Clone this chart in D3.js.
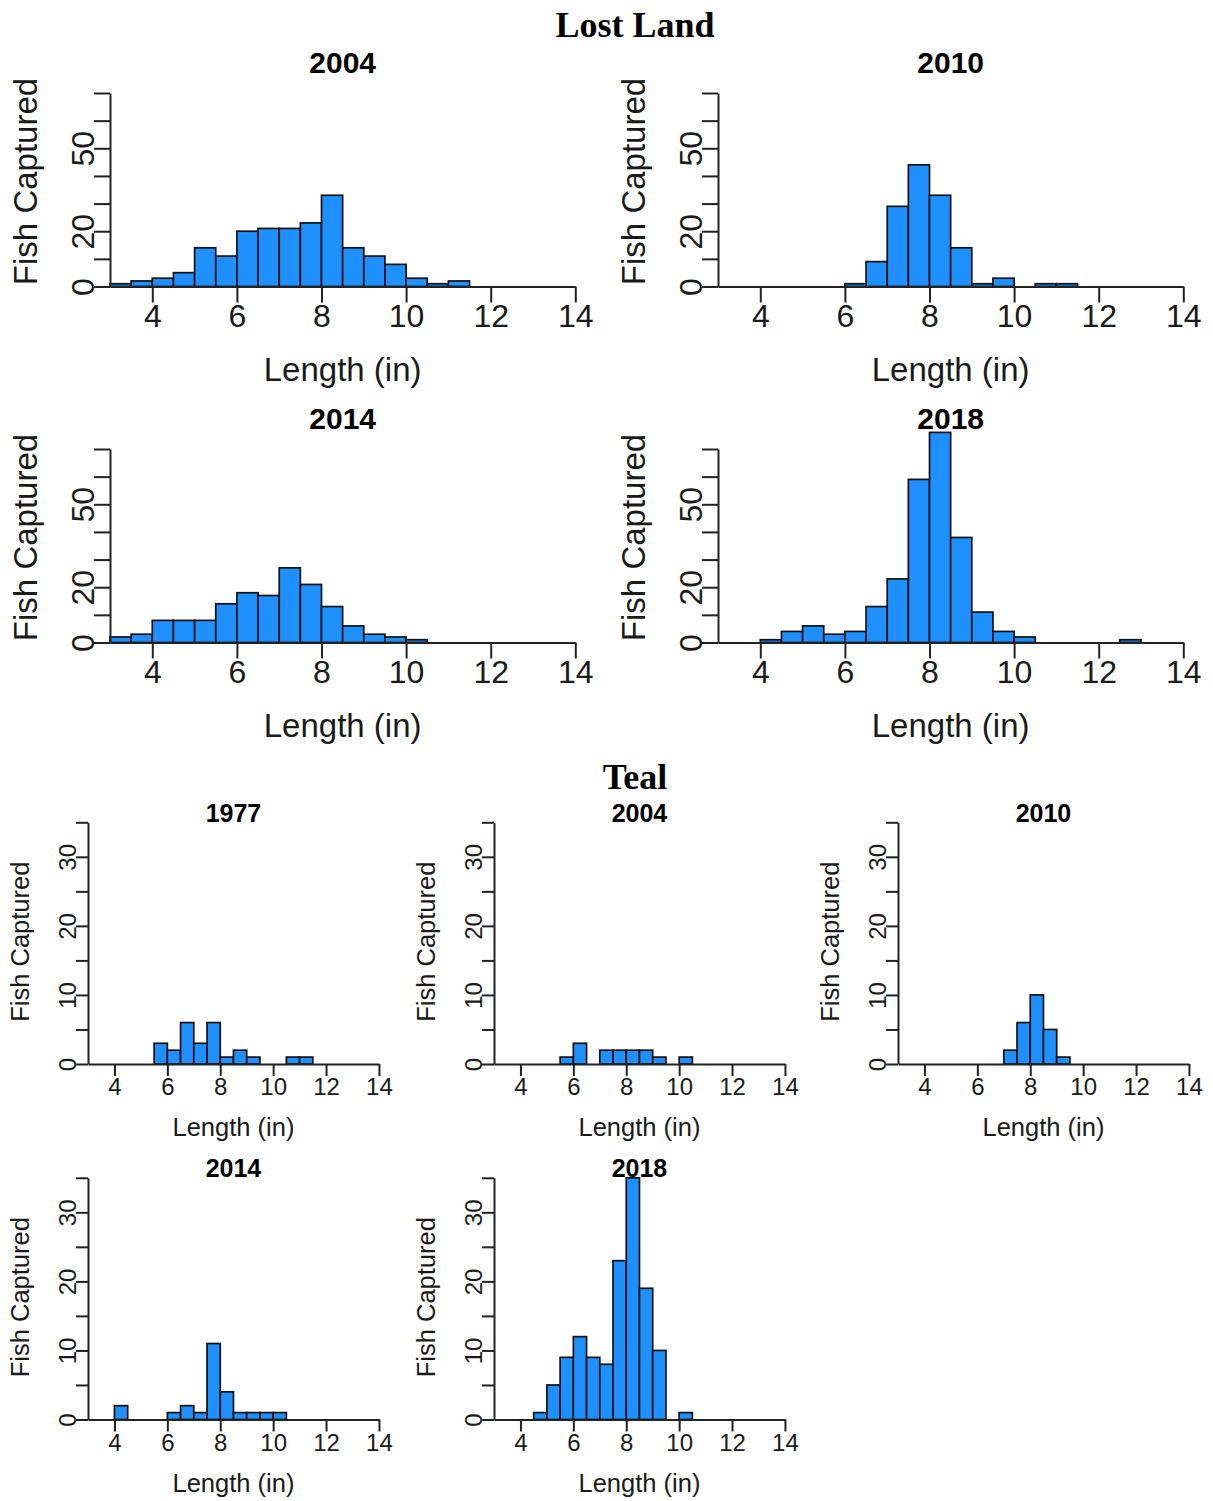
<!DOCTYPE html>
<html>
<head>
<meta charset="utf-8">
<script src="https://cdn.jsdelivr.net/npm/d3@7"></script>
<style>
  body { margin: 0; background: #fff; }
  svg { display: block; }
  text { font-family: Arial, "Liberation Sans", sans-serif; }
  text.group { font-family: "Times New Roman", "Liberation Serif", serif; }
</style>
</head>
<body>
<svg id="chart" width="1213" height="1501"></svg>
<script>
// Length-frequency counts in half-inch bins; each series lists counts from its first bin start.
const binWidth = 0.5;

const lostLand2004Start = 3.0;
const lostLand2004 = [1, 2, 3, 5, 14, 11, 20, 21, 21, 23, 33, 14, 11, 8, 3, 1, 2];
const lostLand2010Start = 6.0;
const lostLand2010 = [1, 9, 29, 44, 33, 14, 1, 3, 0, 1, 1];
const lostLand2014Start = 3.0;
const lostLand2014 = [2, 3, 8, 8, 8, 14, 18, 17, 27, 21, 13, 6, 3, 2, 1];
const lostLand2018Start = 4.0;
const lostLand2018 = [1, 4, 6, 3, 4, 13, 23, 59, 76, 38, 11, 4, 2, 0, 0, 0, 0, 1];

const teal1977Start = 5.5;
const teal1977 = [3, 2, 6, 3, 6, 1, 2, 1, 0, 0, 1, 1];
const teal2004Start = 5.5;
const teal2004 = [1, 3, 0, 2, 2, 2, 2, 1, 0, 1];
const teal2010Start = 7.0;
const teal2010 = [2, 6, 10, 5, 1];
const teal2014Start = 4.0;
const teal2014 = [2, 0, 0, 0, 1, 2, 1, 11, 4, 1, 1, 1, 1];
const teal2018Start = 4.5;
const teal2018 = [1, 5, 9, 12, 9, 8, 23, 35, 19, 10, 0, 1];

// Axis ticks and labels
const xDomain = [3, 14];
const xTicks = [4, 6, 8, 10, 12, 14];
const lostLandYTicks = [0, 10, 20, 30, 40, 50, 60, 70];
const lostLandYLabels = [0, 20, 50];
const tealYTicks = [0, 5, 10, 15, 20, 25, 30, 35];
const tealYLabels = [0, 10, 20, 30];

const groupTitles = ["Lost Land", "Teal"];
const xLabel = "Length (in)";
const yLabel = "Fish Captured";

const lostLandPanels = [
  { year: "2004", start: lostLand2004Start, counts: lostLand2004 },
  { year: "2010", start: lostLand2010Start, counts: lostLand2010 },
  { year: "2014", start: lostLand2014Start, counts: lostLand2014 },
  { year: "2018", start: lostLand2018Start, counts: lostLand2018 }
];
const tealPanels = [
  { year: "1977", start: teal1977Start, counts: teal1977 },
  { year: "2004", start: teal2004Start, counts: teal2004 },
  { year: "2010", start: teal2010Start, counts: teal2010 },
  { year: "2014", start: teal2014Start, counts: teal2014 },
  { year: "2018", start: teal2018Start, counts: teal2018 }
];

const svg = d3.select("#chart");

// Panel styling for each group
const lostLandStyle = {
  cols: [110, 718], rows: [286.5, 642.5],
  unit: 42.3, height: 193.5, yMax: 70,
  yTicks: lostLandYTicks, yLabels: lostLandYLabels,
  tickLen: 16, tickFont: 32, tickBaseline: 40, yLabelGap: 16.5,
  titleFont: 30, titleBaseline: -214, axisFont: 33, xLabelBaseline: 94.5,
  yTitleOffset: -73, yTitleShift: -105
};
const tealStyle = {
  cols: [88, 494, 898], rows: [1064, 1419.5],
  unit: 26.45, height: 241.7, yMax: 35,
  yTicks: tealYTicks, yLabels: tealYLabels,
  tickLen: 12, tickFont: 24, tickBaseline: 31, yLabelGap: 12.2,
  titleFont: 25, titleBaseline: -242.3, axisFont: 25.5, xLabelBaseline: 72,
  yTitleOffset: -59, yTitleShift: -122.3
};

function drawPanel(panel, left, base, st) {
  const x = d3.scaleLinear().domain(xDomain).range([left, left + st.unit * (xDomain[1] - xDomain[0])]);
  const y = d3.scaleLinear().domain([0, st.yMax]).range([base, base - st.height]);
  const g = svg.append("g");

  // bars
  g.selectAll("rect.bar")
    .data(panel.counts.map((c, i) => ({ x0: panel.start + i * binWidth, c })))
    .join("rect")
    .attr("class", "bar")
    .attr("x", d => x(d.x0))
    .attr("width", d => x(d.x0 + binWidth) - x(d.x0))
    .attr("y", d => y(d.c))
    .attr("height", d => y(0) - y(d.c))
    .attr("fill", "#1E90FF")
    .attr("stroke", "#111")
    .attr("stroke-width", 1.7);

  // x axis along zero
  const xa = g.append("g")
    .attr("transform", `translate(0,${y(0)})`)
    .call(d3.axisBottom(x).tickValues(xTicks).tickSize(st.tickLen).tickSizeOuter(0).tickFormat(d3.format("d")));
  xa.selectAll("text")
    .attr("y", st.tickBaseline).attr("dy", null)
    .attr("font-size", st.tickFont).attr("fill", "#1a1a1a");

  // y axis
  const ya = g.append("g")
    .attr("transform", `translate(${x(xDomain[0])},0)`)
    .call(d3.axisLeft(y).tickValues(st.yTicks).tickSize(st.tickLen).tickSizeOuter(0)
      .tickFormat(d => st.yLabels.includes(d) ? d : ""));
  ya.selectAll("text")
    .attr("x", null).attr("dy", null)
    .attr("transform", `translate(${-st.yLabelGap},0) rotate(-90)`)
    .attr("text-anchor", "middle")
    .attr("font-size", st.tickFont).attr("fill", "#1a1a1a");

  [xa, ya].forEach(a => {
    a.selectAll("path.domain").attr("stroke", "#222").attr("stroke-width", 2);
    a.selectAll("line").attr("stroke", "#222").attr("stroke-width", 2);
  });

  const cx = (x.range()[0] + x.range()[1]) / 2;
  // panel title
  g.append("text")
    .attr("x", cx).attr("y", base + st.titleBaseline)
    .attr("text-anchor", "middle").attr("font-weight", "bold")
    .attr("font-size", st.titleFont).attr("fill", "#000")
    .text(panel.year);
  // x label
  g.append("text")
    .attr("x", cx).attr("y", base + st.xLabelBaseline)
    .attr("text-anchor", "middle")
    .attr("font-size", st.axisFont).attr("fill", "#1a1a1a")
    .text(xLabel);
  // y label
  g.append("text")
    .attr("transform", `translate(${left + st.yTitleOffset},${base + st.yTitleShift}) rotate(-90)`)
    .attr("text-anchor", "middle")
    .attr("font-size", st.axisFont).attr("fill", "#1a1a1a")
    .text(yLabel);
}

lostLandPanels.forEach((p, i) => {
  drawPanel(p, lostLandStyle.cols[i % 2], lostLandStyle.rows[Math.floor(i / 2)], lostLandStyle);
});
tealPanels.forEach((p, i) => {
  drawPanel(p, tealStyle.cols[i % 3], tealStyle.rows[Math.floor(i / 3)], tealStyle);
});

// group headings
svg.selectAll("text.group")
  .data(groupTitles)
  .join("text")
  .attr("class", "group")
  .attr("x", 635)
  .attr("y", (d, i) => i === 0 ? 37 : 789)
  .attr("text-anchor", "middle")
  .attr("font-weight", "bold")
  .attr("font-size", 36)
  .attr("fill", "#000")
  .text(d => d);
</script>
</body>
</html>
